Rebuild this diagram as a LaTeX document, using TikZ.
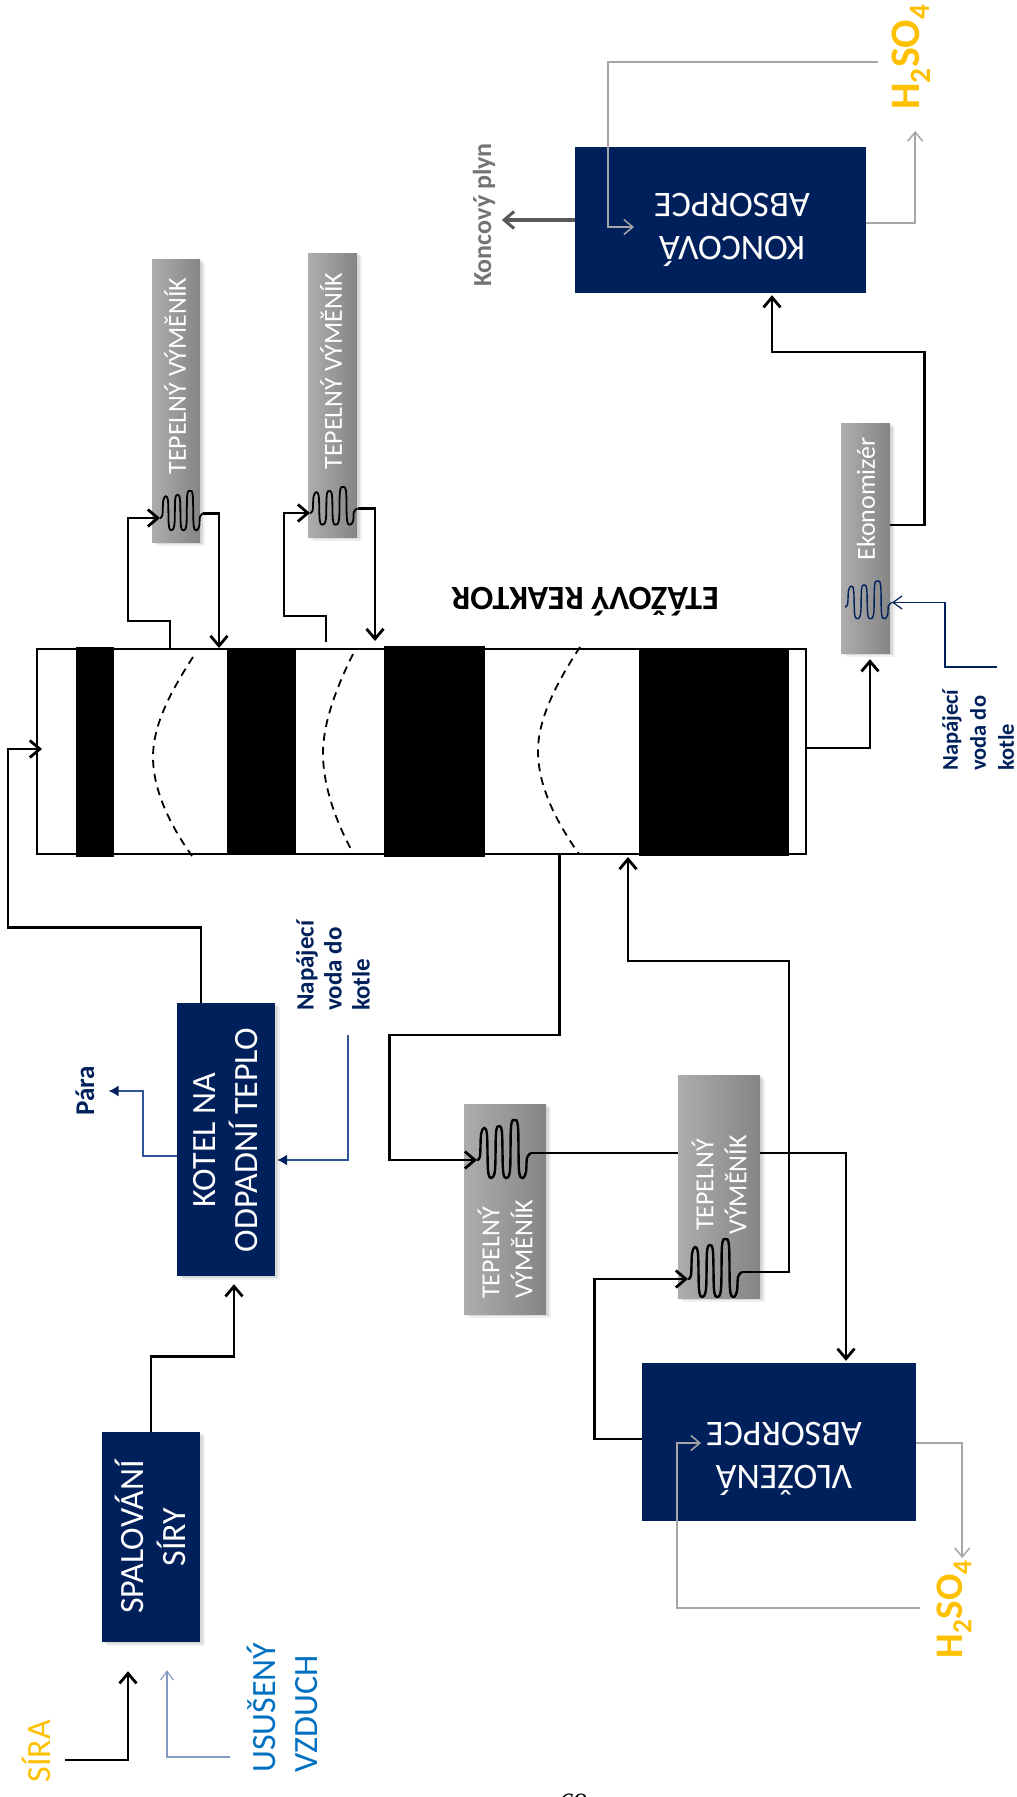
\documentclass[tikz,border=0pt]{standalone}
\usepackage{fontspec}
\setmainfont{Carlito}
\newfontfamily\pagefont{Liberation Serif}
\usepackage{tikz}
\usetikzlibrary{arrows.meta,shadows,positioning}

\definecolor{navy}{HTML}{00205C}
\definecolor{lineblue}{HTML}{2F5597}
\definecolor{sulfur}{HTML}{FFC000}
\definecolor{airblue}{HTML}{0070C0}

\tikzset{
    navybox/.style={fill=navy,text=white,inner sep=0pt},
    softshadow/.style={drop shadow={shadow xshift=5pt,shadow yshift=-4pt,opacity=.12},drop shadow={shadow xshift=2.5pt,shadow yshift=-2pt,opacity=.2}},
    hxbox/.style={left color=black!32,right color=black!48,inner sep=0pt,softshadow},
    hxtext/.style={text=white,rotate=90,align=center,font=\fontsize{26}{33}\selectfont},
    boxtext/.style={text=white,align=center,font=\fontsize{34}{42}\selectfont},
    absorbtext/.style={text=white,align=center,rotate=180,font=\fontsize{36}{43}\selectfont},
    flow/.style={line width=2.9pt,-{Straight Barb[length=10pt,width=17pt,line width=2.8pt]}},
    plainflow/.style={line width=2.9pt},
    greyflow/.style={draw=black!35,line width=1.7pt,-{Straight Barb[length=9pt,width=15pt,line width=1.5pt]}},
    navyflow/.style={draw=lineblue,line width=1.4pt,-{Latex[length=10pt,width=11pt,color=navy]}},
    navyopen/.style={draw=navy,line width=1.4pt,-{Straight Barb[length=9pt,width=13pt,line width=1.2pt]}},
    feedtext/.style={text=navy,rotate=90,align=left,anchor=west,inner sep=0pt,font=\fontsize{22.5}{28}\selectfont\bfseries},
    gasfront/.style={dash pattern=on 8pt off 6pt,line width=1.8pt},
    coil/.pic={
        \coordinate (-in) at (0,0);
        \coordinate (-out) at (54,-7);
        \draw plot[smooth,tension=.6] coordinates {(0,0) (3,-4) (4,-25) (7,-32) (10,-25) (11,10) (14,18) (18,10) (19,-27) (22,-34) (25,-27) (26,10) (29,18) (33,10) (34,-33) (37.5,-40) (41,-33) (42,10) (45.5,18) (49,12) (50,-2) (54,-7)};
    }
}

\begin{document}
\begin{tikzpicture}[x=1pt,y=-1pt]
    \useasboundingbox (0,0) rectangle (1017,1797);

    % Reactor
    \node (reactor) [draw,line width=2pt,minimum width=769pt,minimum height=205pt,inner sep=0pt] at (421.5,751.5) {};
    \fill (76,647) rectangle (114,857);
    \fill (227,649) rectangle (296,854);
    \fill (384,646) rectangle (485,857);
    \fill (639,648) rectangle (789,856);
    \draw[gasfront] (193,657) .. controls (165,700) and (153,730) .. (153,757) .. controls (153,790) and (170,825) .. (192,856);
    \draw[gasfront] (353,654) .. controls (335,690) and (323,725) .. (323,753) .. controls (323,785) and (335,820) .. (353,853);
    \draw[gasfront] (580,647) .. controls (555,685) and (538,720) .. (538,751) .. controls (538,785) and (555,820) .. (579,854);
    \node (reactorname) [rotate=180,font=\fontsize{34}{40}\selectfont\bfseries] at (585,602) {ETÁŽOVÝ REAKTOR};

    % Navy boxes
    \node (spal) [navybox,softshadow,minimum width=98pt,minimum height=210pt] at (151,1537) {};
    \node (spaltext) [boxtext,rotate=90] at (150,1537) {SPALOVÁNÍ\\SÍRY};
    \node (kotel) [navybox,softshadow,minimum width=98pt,minimum height=273pt] at (226,1139.5) {};
    \node (koteltext) [boxtext,rotate=90] at (226,1140) {KOTEL NA\\ODPADNÍ TEPLO};
    \node (vloz) [navybox,minimum width=274pt,minimum height=158pt] at (779,1442) {};
    \node (vloztext) [absorbtext] at (784,1459) {VLOŽENÁ\\ABSORPCE};
    \node (koncova) [navybox,minimum width=291pt,minimum height=146pt] at (720.5,220) {};
    \node (koncovatext) [absorbtext] at (732,230) {KONCOVÁ\\ABSORPCE};

    % Heat exchangers
    \node (hxa) [hxbox,minimum width=82pt,minimum height=210pt] at (505,1209) {};
    \node (hxatext) [hxtext,align=left,anchor=west,inner sep=0pt] at (505,1299) {TEPELNÝ\\VÝMĚNÍK};
    \node (hxb) [hxbox,minimum width=82pt,minimum height=223pt] at (719,1186.5) {};
    \node (hxbtext) [hxtext] at (719,1185) {TEPELNÝ\\VÝMĚNÍK};
    \node (hxc) [hxbox,minimum width=48pt,minimum height=283pt] at (176,400.5) {};
    \node (hxctext) [hxtext] at (175,376) {TEPELNÝ VÝMĚNÍK};
    \node (hxd) [hxbox,minimum width=49pt,minimum height=284pt] at (332.5,395) {};
    \node (hxdtext) [hxtext] at (331,371) {TEPELNÝ VÝMĚNÍK};
    \node (eko) [hxbox,minimum width=49pt,minimum height=230pt] at (865.5,538) {};
    \node (ekotext) [hxtext] at (866,499) {Ekonomizér};

    % Coils
    \pic (ca) [line width=2.4pt] at (477,1160) {coil};
    \pic (cb) [line width=2.4pt] at (688,1279) {coil};
    \pic (cc) [line width=1.8pt,xscale=.8,yscale=.68] at (160,518) {coil};
    \pic (cd) [line width=1.8pt,xscale=.88,yscale=.65] at (310,513) {coil};
    \pic (ce) [navy,line width=1.4pt,xscale=.87,yscale=.65] at (845,607) {coil};

    % Free labels
    \node (sira) [text=sulfur,rotate=90,font=\fontsize{34}{42}\selectfont] at (36,1751) {SÍRA};
    \node (vzduch) [text=airblue,rotate=90,align=left,anchor=west,inner sep=0pt,font=\fontsize{34}{42}\selectfont] at (282,1773) {USUŠENÝ\\VZDUCH};
    \node (para) [text=navy,rotate=90,font=\fontsize{27}{32}\selectfont\bfseries,inner sep=0pt] at (85,1091) {Pára};
    \node (feeda) [feedtext,font=\fontsize{25}{28}\selectfont\bfseries] at (333,1011) {Napájecí\\voda do\\kotle};
    \node (feedb) [feedtext] at (978,771) {Napájecí\\voda do\\kotle};
    \node (plyn) [text=black!55,rotate=90,inner sep=0pt,font=\fontsize{26}{32}\selectfont\bfseries] at (484,215) {Koncový plyn};
    \node (acidtop) [text=sulfur,rotate=90,inner sep=0pt,font=\fontsize{42}{48}\selectfont\bfseries] at (911,57) {H\textsubscript{2}SO\textsubscript{4}};
    \node (acidbot) [text=sulfur,rotate=90,inner sep=0pt,font=\fontsize{39}{48}\selectfont\bfseries] at (954,1609) {H\textsubscript{2}SO\textsubscript{4}};
    \node (pagenum) [inner sep=0pt,font=\fontsize{28}{32}\selectfont\pagefont\itshape] at (573,1803) {69};

    % Free ends
    \coordinate (siraend) at (65,1760);
    \coordinate (airend) at (230,1757);
    \coordinate (feedaend) at (348,1035);
    \coordinate (feedbend) at (997,667);
    \coordinate (acidtopend) at (878,62);
    \coordinate (acidbotend) at (920,1608);

    % Feeds
    \draw[flow] (siraend) -| ([xshift=-23pt,yshift=-29pt]spal.south);
    \draw[draw=lineblue!60,line width=1.3pt,-{Straight Barb[length=9pt,width=13pt,line width=1.1pt]}] (airend) -| ([xshift=16pt,yshift=-28pt]spal.south);

    % Gas path
    \draw[flow] (spal.north) -- ++(0,-75) -| ([xshift=8pt,yshift=-8pt]kotel.south);
    \draw[flow] ([xshift=-25pt]kotel.north) -- ++(0,-75) -- ++(-193,0) |- ([xshift=6pt,yshift=2.5pt]reactor.west);
    \draw[flow] ([xshift=-251.5pt]reactor.north) -- ++(0,-27) -- ++(-42,0) |- (cc-in);
    \draw[flow] (cc-out) -| ([xshift=-202.5pt]reactor.north);
    \draw[flow] ([xshift=-95.5pt,yshift=6pt]reactor.north) -- ++(0,-26) -- ++(-42,0) |- (cd-in);
    \draw[flow] (cd-out) -| ([xshift=-46.5pt,yshift=7pt]reactor.north);
    \draw[flow] ([xshift=138pt]reactor.south) -- ++(0,180) -- ++(-170,0) |- (ca-in);
    \draw[plainflow] (ca-out) -- (ca-out -| hxb.west);
    \draw[flow] (ca-out -| hxb.east) -| ([xshift=67pt,yshift=2pt]vloz.north);
    \draw[flow] ([yshift=3pt]vloz.west) -- ++(-47,0) |- (cb-in);
    \draw[flow] (cb-out) -- ++(47,0) -- ++(0,-311) -| ([xshift=206.5pt,yshift=-2pt]reactor.south);
    \draw[flow] ([yshift=3.5pt]reactor.east) -| ([xshift=4.5pt,yshift=-6pt]eko.south);
    \draw[flow] ([yshift=13pt]eko.east) -- ++(34,0) -- ++(0,-173) -| ([xshift=51.5pt,yshift=-2pt]koncova.south);
    \draw[line width=3.2pt,draw=black!65,-{Straight Barb[length=10pt,width=17pt,line width=3pt]}] (koncova.west) -- ++(-73,0);

    % Boiler water
    \draw[navyflow] ([yshift=-16.5pt]kotel.west) -- ++(-34,0) |- ([xshift=14pt]para.south);
    \draw[navyflow] (feedaend) |- ([xshift=2pt,yshift=-20.5pt]kotel.east);
    \draw[navyopen] (feedbend) -- ++(-52,0) |- (ce-out);

    % Acid loops
    \draw[greyflow] ([yshift=-3pt]koncova.east) -- ++(49,0) -- ++(0,-92);
    \draw[greyflow] (acidtopend) -- ++(-270,0) |- ++(26,165);
    \draw[greyflow] ([yshift=-1pt]vloz.east) -- ++(46,0) -- ++(0,115);
    \draw[greyflow] (acidbotend) -- ++(-243,0) |- ++(24,-165);
\end{tikzpicture}
\end{document}
